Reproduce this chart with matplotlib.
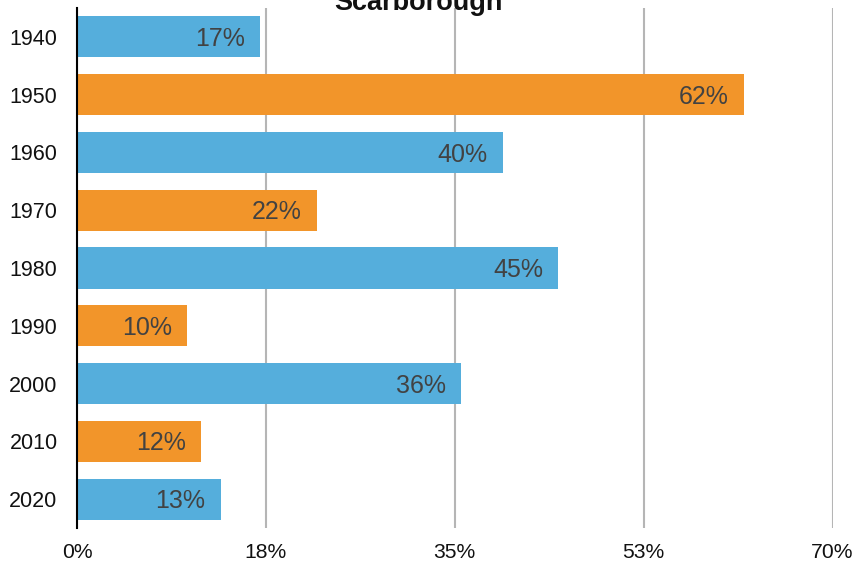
import matplotlib
matplotlib.use("Agg")
import matplotlib.pyplot as plt

years = ["1940", "1950", "1960", "1970", "1980", "1990", "2000", "2010", "2020"]
values = [17.0, 61.8, 39.45, 22.2, 44.6, 10.2, 35.55, 11.5, 13.3]
value_labels = ["17%", "62%", "40%", "22%", "45%", "10%", "36%", "12%", "13%"]
colors = ["#55AEDC", "#F2952A"] * 5
xticks = [0, 17.5, 35, 52.5, 70]
xtick_labels = ["0%", "18%", "35%", "53%", "70%"]

plt.rcParams['font.family'] = ['Liberation Sans', 'DejaVu Sans']
fig = plt.figure(figsize=(8.64, 5.63), dpi=100)
ax = fig.add_axes([77/864, 1-528/563, (832.5-77)/864, 520/563])

ypos = list(range(len(years)))
ax.barh(ypos, values, height=0.71, color=colors[:len(years)], zorder=3)
for y, v, lab in zip(ypos, values, value_labels):
    ax.annotate(lab, xy=(v, y), xytext=(-10.8, -1.5), textcoords="offset points",
                ha="right", va="center", fontsize=18, color="#424242", zorder=4)

ax.set_xlim(0, 70)
ax.set_ylim(len(years) - 0.5, -0.5)
ax.set_yticks(ypos)
ax.set_yticklabels(years, fontsize=15.5, color="#111111")
ax.set_xticks(xticks)
ax.set_xticklabels(xtick_labels, fontsize=15.2, color="#111111")
ax.tick_params(length=0)
ax.tick_params(axis='x', pad=10.5)
ax.tick_params(axis='y', pad=14)
ax.grid(axis='x', color="#b5b5b5", linewidth=1.5, zorder=0)
for s in ["top", "right", "bottom"]:
    ax.spines[s].set_visible(False)
ax.spines["left"].set_color("black")
ax.spines["left"].set_linewidth(1.5)
ax.spines["left"].set_zorder(5)

fig.text(418/864, 1-10/563, "Scarborough", ha="center", va="baseline",
         fontsize=19.5, fontweight="bold", color="#111111")

fig.savefig("out.png", dpi=100)
